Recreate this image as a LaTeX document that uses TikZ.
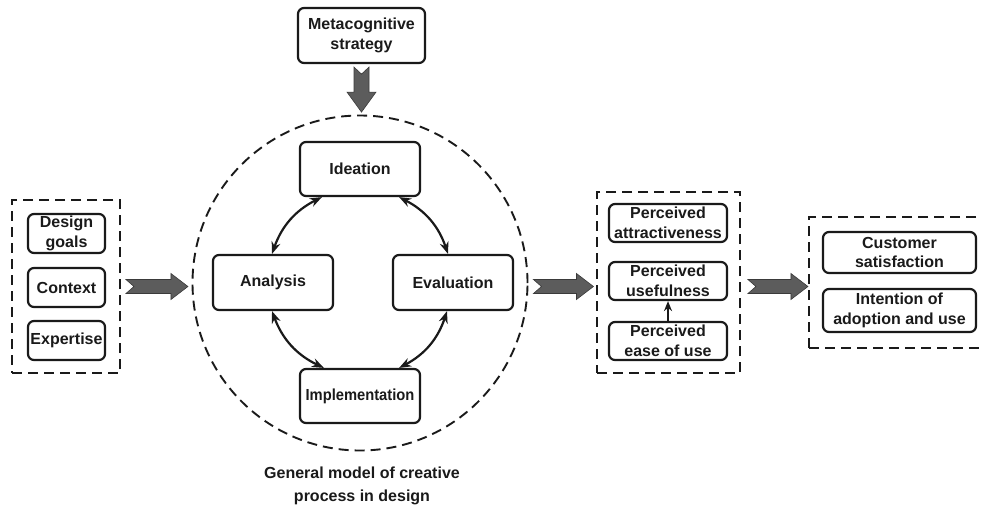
\documentclass[tikz,border=0pt]{standalone}
\usepackage{fontspec}
\setmainfont{Liberation Sans}
\usetikzlibrary{arrows.meta,shapes.geometric}
\definecolor{ink}{HTML}{1A1A1A}
\definecolor{arrowgray}{HTML}{5C5C5C}
\definecolor{arrowedge}{HTML}{3A3A3A}
\tikzset{
  box/.style={draw=ink, line width=2.2pt, rounded corners=6pt, align=center, inner sep=1pt,
    font=\fontsize{16}{19.5}\selectfont\bfseries, text=ink},
  group/.style={draw=ink, line width=1.9pt, dash pattern=on 10pt off 6pt},
  cycarrow/.style={draw=ink, line width=2.2pt, {Stealth[length=12pt,width=9pt]}-{Stealth[length=12pt,width=9pt]}},
  hfat/.pic={\fill[arrowgray, draw=arrowedge, line width=0.6pt, line join=miter]
     (0,-7) -- (#1-17,-7) -- (#1-17,-13) -- (#1,0) -- (#1-17,13) -- (#1-17,7) -- (0,7) -- (8,0) -- cycle;},
  vfat/.pic={\fill[arrowgray, draw=arrowedge, line width=0.6pt, line join=miter]
     (0,-7.5) -- (#1-20,-7.5) -- (#1-20,-14.5) -- (#1,0) -- (#1-20,14.5) -- (#1-20,7.5) -- (0,7.5) -- (7,0) -- cycle;},
}
\begin{document}
\begin{tikzpicture}[x=1pt,y=-1pt]
\useasboundingbox (0,0) rectangle (982,504);
% groups
\node[group, minimum width=108pt, minimum height=173pt] (leftbox) at (66,286.5) {};
\node[group, minimum width=143pt, minimum height=181pt] (box2) at (668.5,282.5) {};
\node[group, minimum width=186pt, minimum height=131pt] (box3) at (902,282.5) {};
\node[draw=ink, line width=1.9pt, dash pattern=on 10pt off 6pt, circle, minimum size=335pt, inner sep=0pt] (circ) at (360,283) {};
% left inputs
\node[box, minimum width=77pt, minimum height=39pt] (goals) at (66.5,233.5) {Design\\goals};
\node[box, minimum width=77pt, minimum height=39pt] (context) at (66.5,287.5) {Context};
\node[box, minimum width=77pt, minimum height=39pt] (expertise) at (66.5,340.5) {Expertise};
% metacognitive
\node[box, minimum width=127pt, minimum height=55pt] (meta) at (361.5,35.5) {Metacognitive\\strategy};
% cycle
\node[box, minimum width=120pt, minimum height=54pt] (ideation) at (360,169) {Ideation};
\node[box, minimum width=120pt, minimum height=55pt] (analysis) at (273,282.5) {Analysis};
\node[box, minimum width=120pt, minimum height=55pt] (evaluation) at (453,282.5) {Evaluation};
\node[box, minimum width=120pt, minimum height=54pt] (implementation) at (360,396) {\scalebox{0.92}[1]{Implementation}};
\draw[cycarrow] ([xshift=23pt]ideation.south west) to[bend right=22] ([xshift=-1pt]analysis.north);
\draw[cycarrow] ([xshift=-22pt]ideation.south east) to[bend left=22] ([xshift=-5pt]evaluation.north);
\draw[cycarrow] ([xshift=-1pt]analysis.south) to[bend right=22] ([xshift=25pt]implementation.north west);
\draw[cycarrow] ([xshift=-6pt]evaluation.south) to[bend left=22] ([xshift=-22pt]implementation.north east);
\node[align=center, font=\fontsize{16}{23}\selectfont\bfseries, text=ink] (caption) at (362,486) {General model of creative\\process in design};
% perceived
\node[box, minimum width=118pt, minimum height=38pt] (attr) at (668,223) {Perceived\\attractiveness};
\node[box, minimum width=118pt, minimum height=38pt] (useful) at (668,281) {Perceived\\usefulness};
\node[box, minimum width=118pt, minimum height=38pt] (ease) at (668,341) {Perceived\\ease of use};
\draw[draw=ink, line width=2.4pt, -{Stealth[length=10pt,width=8pt]}] (ease.north) -- (useful.south);
% outcomes
\node[box, minimum width=153pt, minimum height=41pt] (satisf) at (899.5,252.5) {Customer\\satisfaction};
\node[box, minimum width=153pt, minimum height=43pt] (intent) at (899.5,310.5) {Intention of\\adoption and use};
% fat arrows
\pic at ([xshift=5pt]leftbox.east) {hfat=62};
\pic at ([xshift=5pt]leftbox.east -| circ.east) {hfat=60};
\pic at ([xshift=7pt]leftbox.east -| box2.east) {hfat=60};
\pic[rotate=-90] at ([yshift=-3pt]meta.south) {vfat=45};
\end{tikzpicture}
\end{document}
